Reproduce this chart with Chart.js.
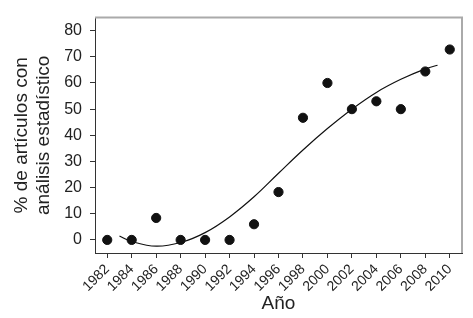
<!DOCTYPE html>
<html><head><meta charset="utf-8">
<script src="https://cdn.jsdelivr.net/npm/chart.js@4"></script>
<style>html,body{margin:0;padding:0;background:#fff}#wrap{width:473px;height:318px}</style>
</head><body><div id="wrap"><canvas id="c"></canvas></div>
<script>
const years = [1982,1984,1986,1988,1990,1992,1994,1996,1998,2000,2002,2004,2006,2008,2010];
const percents = [0,0,8.4,0,0,0,6,18.3,46.7,60,50,53,50,64.4,72.8];
const fitYears = [1983,1984,1986,1988,1990,1992,1994,1996,1998,2000,2002,2004,2006,2008,2009];
const fitValues = [1.5,-0.6,-2.4,-1.0,2.8,8.8,16.5,25.5,34.4,42.6,50,56.4,61.4,65.4,66.8];
const yTicks = [0,10,20,30,40,50,60,70,80];

const FONT = "'Liberation Sans', Arial, sans-serif";
const frame = {
  id:'frame',
  afterDatasetsDraw(chart){
    const {ctx, chartArea:a} = chart;
    ctx.save();
    ctx.strokeStyle = '#aaaaaa';
    ctx.lineWidth = 2;
    ctx.beginPath();
    ctx.moveTo(a.left, a.top); ctx.lineTo(a.right, a.top); ctx.lineTo(a.right, a.bottom);
    ctx.stroke();
    ctx.restore();
  }
};

new Chart(document.getElementById('c'), {
  type:'scatter',
  data:{
    datasets:[
      {data: years.map((y,i)=>({x:y,y:percents[i]})), backgroundColor:'#111', borderColor:'#111', pointRadius:4.6, pointHoverRadius:4.6, order:1},
      {type:'line', data: fitYears.map((y,i)=>({x:y,y:fitValues[i]})), borderColor:'#111', borderWidth:1.2, pointRadius:0, fill:false, tension:0.4, order:2}
    ]
  },
  options:{
    responsive:true, maintainAspectRatio:false, animation:false,
    layout:{padding:{left:0, top:13, right:11, bottom:0}},
    plugins:{legend:{display:false}, tooltip:{enabled:false}},
    scales:{
      x:{
        type:'linear', min:1981, max:2011,
        afterBuildTicks(s){ s.ticks = years.map(v=>({value:v})); },
        afterFit(s){ s.height = 65; },
        grid:{display:true, drawOnChartArea:false, drawTicks:true, tickLength:5, color:'#333'},
        border:{display:true, color:'#333', width:1},
        ticks:{autoSkip:false, maxRotation:45, minRotation:45, padding:3, color:'#222', font:{family:FONT, size:14}, callback:v=>String(v)},
        title:{display:true, text:'Año', color:'#222', font:{family:FONT, size:19}, padding:{top:0,bottom:3}}
      },
      y:{
        min:-5, max:85,
        afterBuildTicks(s){ s.ticks = yTicks.map(v=>({value:v})); },
        afterFit(s){ s.width = 95; },
        grid:{display:true, drawOnChartArea:false, drawTicks:true, tickLength:5, color:'#333'},
        border:{display:true, color:'#333', width:1},
        ticks:{padding:8, color:'#222', font:{family:FONT, size:16}},
        title:{display:true, text:['% de artículos con','análisis estadístico'], color:'#222', font:{family:FONT, size:19, lineHeight:1.2}, padding:{top:10,bottom:0}}
      }
    }
  },
  plugins:[frame]
});
</script></body></html>
